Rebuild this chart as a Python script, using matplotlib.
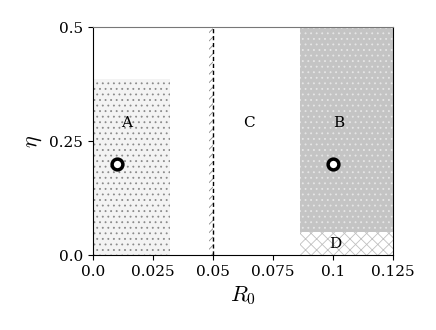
import matplotlib
matplotlib.use("Agg")
import matplotlib.pyplot as plt
from matplotlib.patches import Rectangle

plt.rcParams['mathtext.fontset'] = 'cm'
plt.rcParams['font.family'] = 'DejaVu Serif'
plt.rcParams['hatch.linewidth'] = 0.6

# Regions: (name, x0, x1, y0, y1)
region_names = ["A", "strip", "B", "D"]
region_x0 = [0.0, 0.0483, 0.0862, 0.0862]
region_x1 = [0.032, 0.050, 0.125, 0.125]
region_y0 = [0.0, 0.0, 0.05, 0.0]
region_y1 = [0.386, 0.5, 0.5, 0.05]

labels = ["A", "C", "B", "D"]
label_x = [0.0142, 0.065, 0.1025, 0.101]
label_y = [0.289, 0.289, 0.289, 0.024]

point_x = [0.01, 0.1]
point_y = [0.2, 0.2]

boundary_x = 0.05

xticks = [0.0, 0.025, 0.05, 0.075, 0.1, 0.125]
xticklabels = ["0.0", "0.025", "0.05", "0.075", "0.1", "0.125"]
yticks = [0.0, 0.25, 0.5]
yticklabels = ["0.0", "0.25", "0.5"]

fig = plt.figure(figsize=(4.36, 3.30), dpi=100)
ax = fig.add_axes([0.213, 0.227, 0.688, 0.691])

styles = {
    "A": dict(facecolor="#f3f3f3", edgecolor="#8a8a8a", hatch="..."),
    "strip": dict(facecolor="white", edgecolor="#8a8a8a", hatch="////"),
    "B": dict(facecolor="#c4c4c4", edgecolor="#e6e6e6", hatch="..."),
    "D": dict(facecolor="white", edgecolor="#c0c0c0", hatch="xxx"),
}
for n, x0, x1, y0, y1 in zip(region_names, region_x0, region_x1, region_y0, region_y1):
    st = styles[n]
    ax.add_patch(Rectangle((x0, y0), x1 - x0, y1 - y0, facecolor=st["facecolor"],
                           edgecolor=st["edgecolor"], hatch=st["hatch"], linewidth=0, zorder=1))

ax.axvline(boundary_x, color="black", linestyle="--", linewidth=1.0, dashes=(3, 2), zorder=3)

ax.scatter(point_x, point_y, s=60, facecolors="white", edgecolors="black", linewidths=2.5, zorder=4)

for t, x, y in zip(labels, label_x, label_y):
    ax.text(x, y, t, ha="center", va="center", fontsize=11, zorder=5)

ax.set_xlim(0, 0.125)
ax.set_ylim(0, 0.5)
ax.set_xticks(xticks)
ax.set_xticklabels(xticklabels)
ax.set_yticks(yticks)
ax.set_yticklabels(yticklabels)
ax.tick_params(labelsize=11)
ax.set_xlabel(r"$R_0$", fontsize=16)
ax.set_ylabel(r"$\eta$", fontsize=16)

ax.spines["top"].set_color("#777777")
ax.spines["right"].set_color("black")

fig.savefig("out.png", dpi=100)
